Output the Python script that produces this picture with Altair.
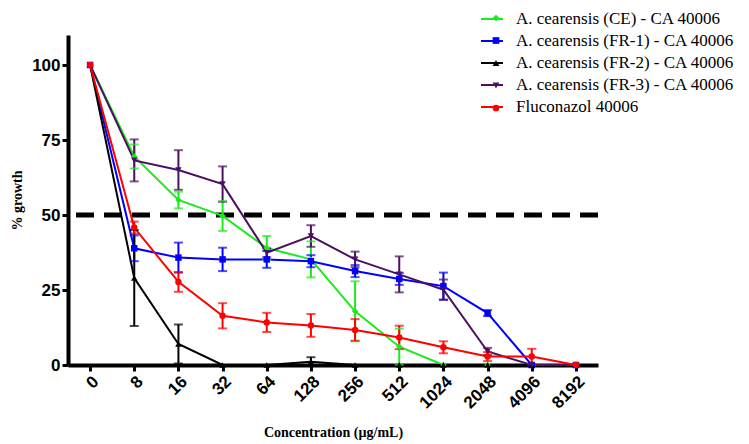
import altair as alt
import pandas as pd

conc = ["0", "8", "16", "32", "64", "128", "256", "512", "1024", "2048", "4096", "8192"]

series = [
    "A. cearensis (CE) - CA 40006",
    "A. cearensis (FR-1) - CA 40006",
    "A. cearensis (FR-2) - CA 40006",
    "A. cearensis (FR-3) - CA 40006",
    "Fluconazol 40006",
]
colors = ["#1aeb1a", "#0000ff", "#000000", "#4b1060", "#ff0000"]
point_shapes = ["diamond", "square", "triangle-up", "triangle-down", "circle"]

ce_mean = [100, 69.5, 55.0, 49.7, 39.0, 35.2, 17.9, 6.1, 0, 0, 0, 0]
ce_err = [0, 4.0, 2.8, 5.0, 4.0, 6.0, 10.0, 6.0, 0, 0, 0, 0]
fr1_mean = [100, 38.9, 35.8, 35.2, 35.2, 34.6, 31.3, 28.7, 26.3, 17.3, 0, 0]
fr1_err = [0, 4.3, 5.0, 3.9, 2.8, 2.0, 2.0, 2.0, 4.5, 1.0, 0, 0]
fr2_mean = [100, 29.0, 7.0, 0, 0, 1.1, 0, 0, 0, 0, 0, 0]
fr2_err = [0, 16.0, 6.5, 0, 0, 1.5, 0, 0, 0, 0, 0, 0]
fr3_mean = [100, 68.2, 65.0, 60.3, 37.4, 43.0, 35.2, 30.2, 25.1, 4.5, 0, 0]
fr3_err = [0, 7.0, 6.6, 5.9, 1.5, 3.6, 2.6, 6.0, 3.4, 1.2, 0, 0]
flu_mean = [100, 45.8, 27.7, 16.4, 14.2, 13.2, 11.7, 9.2, 5.9, 2.8, 2.8, 0]
flu_err = [0, 2.0, 3.3, 4.2, 3.2, 3.8, 3.6, 3.9, 2.0, 1.5, 2.6, 0]

means = [ce_mean, fr1_mean, fr2_mean, fr3_mean, flu_mean]
errs = [ce_err, fr1_err, fr2_err, fr3_err, flu_err]

rows = []
for si, name in enumerate(series):
    for ci, c in enumerate(conc):
        m = means[si][ci]
        e = errs[si][ci]
        rows.append({
            "series": name, "series_mk": name + " ", "order": si, "conc": c,
            "mean": m, "err": e, "lo": max(m - e, 0), "hi": m + e,
        })
df = pd.DataFrame(rows)
df_err = df[df["err"] > 0]
series_mk = [s + " " for s in series]

color_scale = alt.Scale(domain=series, range=colors)
x_plain = alt.X("conc:N", sort=conc)

x_enc = alt.X(
    "conc:N", sort=conc,
    scale=alt.Scale(type="point", padding=0.5),
    axis=alt.Axis(title="Concentration (µg/mL)", labelAngle=-45, titlePadding=14),
)
y_enc = alt.Y(
    "mean:Q",
    scale=alt.Scale(domain=[0, 110], nice=False),
    axis=alt.Axis(title="% growth", values=[0, 25, 50, 75, 100], titlePadding=7),
)

base = alt.Chart(df)

threshold = alt.Chart(pd.DataFrame({"y": [50]})).mark_rule(
    color="black", strokeWidth=5, strokeDash=[18, 10]
).encode(y="y:Q")

# lines carry the legend (line glyph + label)
lines = base.mark_line(strokeWidth=2).encode(
    x=x_enc, y=y_enc,
    color=alt.Color("series:N", scale=color_scale,
                    legend=alt.Legend(title=None, orient="none", legendX=412, legendY=-28,
                                      symbolType="stroke", symbolSize=484,
                                      symbolStrokeWidth=2, rowPadding=2, labelOffset=12,
                                      labelFontSize=17)),
    order="order:Q",
    detail="series:N",
)

# hidden layer whose legend adds the marker on top of each legend line
mk_legend = alt.Legend(title=None, orient="none", legendX=420, legendY=-25,
                       symbolSize=45, rowPadding=6.5, labelExpr="' '", labelFontSize=16)
marker_legend = base.mark_point(filled=True, opacity=0).encode(
    x=x_plain, y="mean:Q",
    fill=alt.Fill("series_mk:N", scale=alt.Scale(domain=series_mk, range=colors),
                  legend=mk_legend),
    shape=alt.Shape("series_mk:N", scale=alt.Scale(domain=series_mk, range=point_shapes),
                    legend=mk_legend),
)

err_rules = alt.Chart(df_err).mark_rule(strokeWidth=2).encode(
    x=x_plain, y="lo:Q", y2="hi:Q",
    color=alt.Color("series:N", scale=color_scale, legend=None),
)
err_lo = alt.Chart(df_err).mark_tick(thickness=2, size=9).encode(
    x=x_plain, y="lo:Q",
    color=alt.Color("series:N", scale=color_scale, legend=None),
)
err_hi = alt.Chart(df_err).mark_tick(thickness=2, size=9).encode(
    x=x_plain, y="hi:Q",
    color=alt.Color("series:N", scale=color_scale, legend=None),
)

point_layers = []
for name, shp in zip(series, point_shapes):
    point_layers.append(
        base.transform_filter(alt.datum.series == name).mark_point(
            filled=True, size=42, opacity=1, shape=shp
        ).encode(
            x=x_plain, y="mean:Q",
            color=alt.Color("series:N", scale=color_scale, legend=None),
        )
    )

chart = alt.layer(
    threshold, lines, marker_legend, err_rules, err_lo, err_hi, *point_layers
).properties(
    width=530, height=330,
    autosize=alt.AutoSizeParams(type="none"),
    padding={"left": 60, "top": 27, "right": 140, "bottom": 75},
).configure_view(
    stroke=None
).configure_axis(
    grid=False,
    domainColor="black", domainWidth=4,
    tickColor="black", tickWidth=3, tickSize=6,
    labelFont="Liberation Sans", labelFontWeight="bold", labelFontSize=17, labelColor="black",
    titleFont="Liberation Serif", titleFontWeight="bold", titleFontSize=14, titleColor="black",
).configure_legend(
    labelFont="Liberation Serif", labelColor="black", labelLimit=400,
    symbolOpacity=1,
)

chart.save("out.html", embed_options={"renderer": "svg", "actions": False})
